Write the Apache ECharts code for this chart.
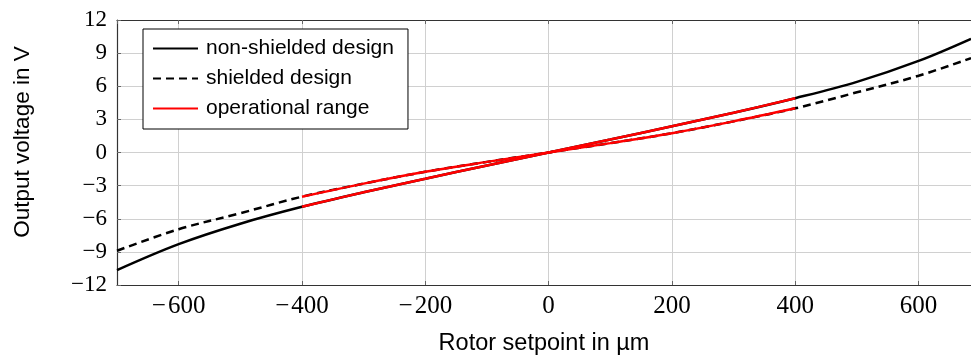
<!DOCTYPE html>
<html>
<head>
    <meta charset="utf-8">
    <title>Output voltage vs rotor setpoint</title>
    <script src="https://cdn.jsdelivr.net/npm/echarts@6/dist/echarts.min.js"></script>
    <style>
        html, body { margin: 0; padding: 0; background: #fff; }
    </style>
</head>
<body>
    <div id="main" style="width: 971px;height:356px;"></div>
    <script type="text/javascript">
        // setpoints in µm
        var setpoints = [-700, -600, -500, -400, -300, -200, -100, 0, 100, 200, 300, 400, 500, 600, 685];
        // output voltage in V
        var nonShielded = [-10.65, -8.3, -6.45, -4.92, -3.6, -2.38, -1.17, 0, 1.17, 2.38, 3.6, 4.92, 6.4, 8.3, 10.3];
        var shielded = [-8.9, -6.95, -5.5, -4.0, -2.82, -1.75, -0.85, 0, 0.85, 1.75, 2.82, 4.0, 5.45, 6.95, 8.55];
        var rangeMin = -400, rangeMax = 400;
        var yTicks = [-12, -9, -6, -3, 0, 3, 6, 9, 12];

        function pairs(xs, ys, lo, hi) {
            var out = [];
            for (var i = 0; i < xs.length; i++) {
                if (xs[i] >= lo && xs[i] <= hi) out.push([xs[i], ys[i]]);
            }
            return out;
        }
        function minus(v) { return String(v).replace('-', '\u2212'); }
        function minusWide(v) { return String(v).replace('-', '\u2212\u200a'); }

        var myChart = echarts.init(document.getElementById('main'));

        var nameFont = { fontFamily: 'Liberation Sans', color: '#000' };

        myChart.setOption({
            animation: false,
            grid: { left: 117, right: 0, top: 20, bottom: 71, outerBoundsMode: 'none', containLabel: false },
            legend: {
                left: 143, top: 29,
                orient: 'vertical',
                data: ['non-shielded design', 'shielded design', 'operational range'],
                backgroundColor: '#fff',
                borderColor: '#000',
                borderWidth: 1,
                borderRadius: 0,
                padding: [9, 14, 10, 9],
                itemWidth: 45,
                itemHeight: 14,
                itemGap: 9,
                itemStyle: { opacity: 0 },
                textStyle: { fontFamily: 'Liberation Sans', fontSize: 21, color: '#000', padding: [0, 0, 0, 3] }
            },
            xAxis: [{
                type: 'value',
                min: -700, max: 685,
                splitNumber: 7,
                name: 'Rotor setpoint in µm',
                nameLocation: 'middle',
                nameGap: 47,
                nameTextStyle: Object.assign({ fontSize: 23.5 }, nameFont),
                axisLine: { onZero: false, lineStyle: { color: '#333', width: 1.2 } },
                axisTick: { inside: true, length: 4, lineStyle: { color: '#666' } },
                axisLabel: { margin: 9, showMinLabel: false, showMaxLabel: false, formatter: minusWide,
                    fontFamily: 'Liberation Serif', fontSize: 25, color: '#000' },
                splitLine: { show: true, lineStyle: { color: '#d0d0d0', width: 1 } }
            }, {
                type: 'value',
                position: 'top',
                min: -700, max: 685,
                splitNumber: 7,
                axisLine: { show: true, onZero: false, lineStyle: { color: '#333', width: 1.2 } },
                axisTick: { show: true, inside: true, length: 4, lineStyle: { color: '#666' } },
                axisLabel: { show: false },
                splitLine: { show: false }
            }],
            yAxis: {
                type: 'value',
                min: yTicks[0], max: yTicks[yTicks.length - 1],
                interval: 3,
                name: 'Output voltage in V',
                nameLocation: 'middle',
                nameGap: 83,
                nameTextStyle: Object.assign({ fontSize: 22.5, padding: [0, 0, 0, 21] }, nameFont),
                axisLine: { show: true, onZero: false, lineStyle: { color: '#333', width: 1.2 } },
                axisTick: { show: true, inside: true, length: 4, lineStyle: { color: '#666' } },
                axisLabel: { margin: 10, formatter: minus,
                    fontFamily: 'Liberation Serif', fontSize: 23, color: '#000' },
                splitLine: { show: true, lineStyle: { color: '#d0d0d0', width: 1 } }
            },
            series: [
                {
                    name: 'non-shielded design',
                    type: 'line',
                    data: pairs(setpoints, nonShielded, -Infinity, Infinity),
                    smooth: 0.35,
                    symbol: 'none',
                    itemStyle: { color: '#000' },
                    lineStyle: { color: '#000', width: 2.5 }
                },
                {
                    name: 'shielded design',
                    type: 'line',
                    data: pairs(setpoints, shielded, -Infinity, Infinity),
                    smooth: 0.35,
                    symbol: 'none',
                    itemStyle: { color: '#000' },
                    lineStyle: { color: '#000', width: 2.5, type: [8, 5] }
                },
                {
                    name: 'operational range',
                    type: 'line',
                    data: pairs(setpoints, nonShielded, rangeMin, rangeMax),
                    smooth: 0.35,
                    symbol: 'none',
                    itemStyle: { color: '#ff0000' },
                    lineStyle: { color: '#ff0000', width: 2.5 }
                },
                {
                    name: 'operational range',
                    type: 'line',
                    data: pairs(setpoints, shielded, rangeMin, rangeMax),
                    smooth: 0.35,
                    symbol: 'none',
                    itemStyle: { color: '#ff0000' },
                    lineStyle: { color: '#ff0000', width: 2.5 }
                }
            ]
        });
    </script>
</body>
</html>
